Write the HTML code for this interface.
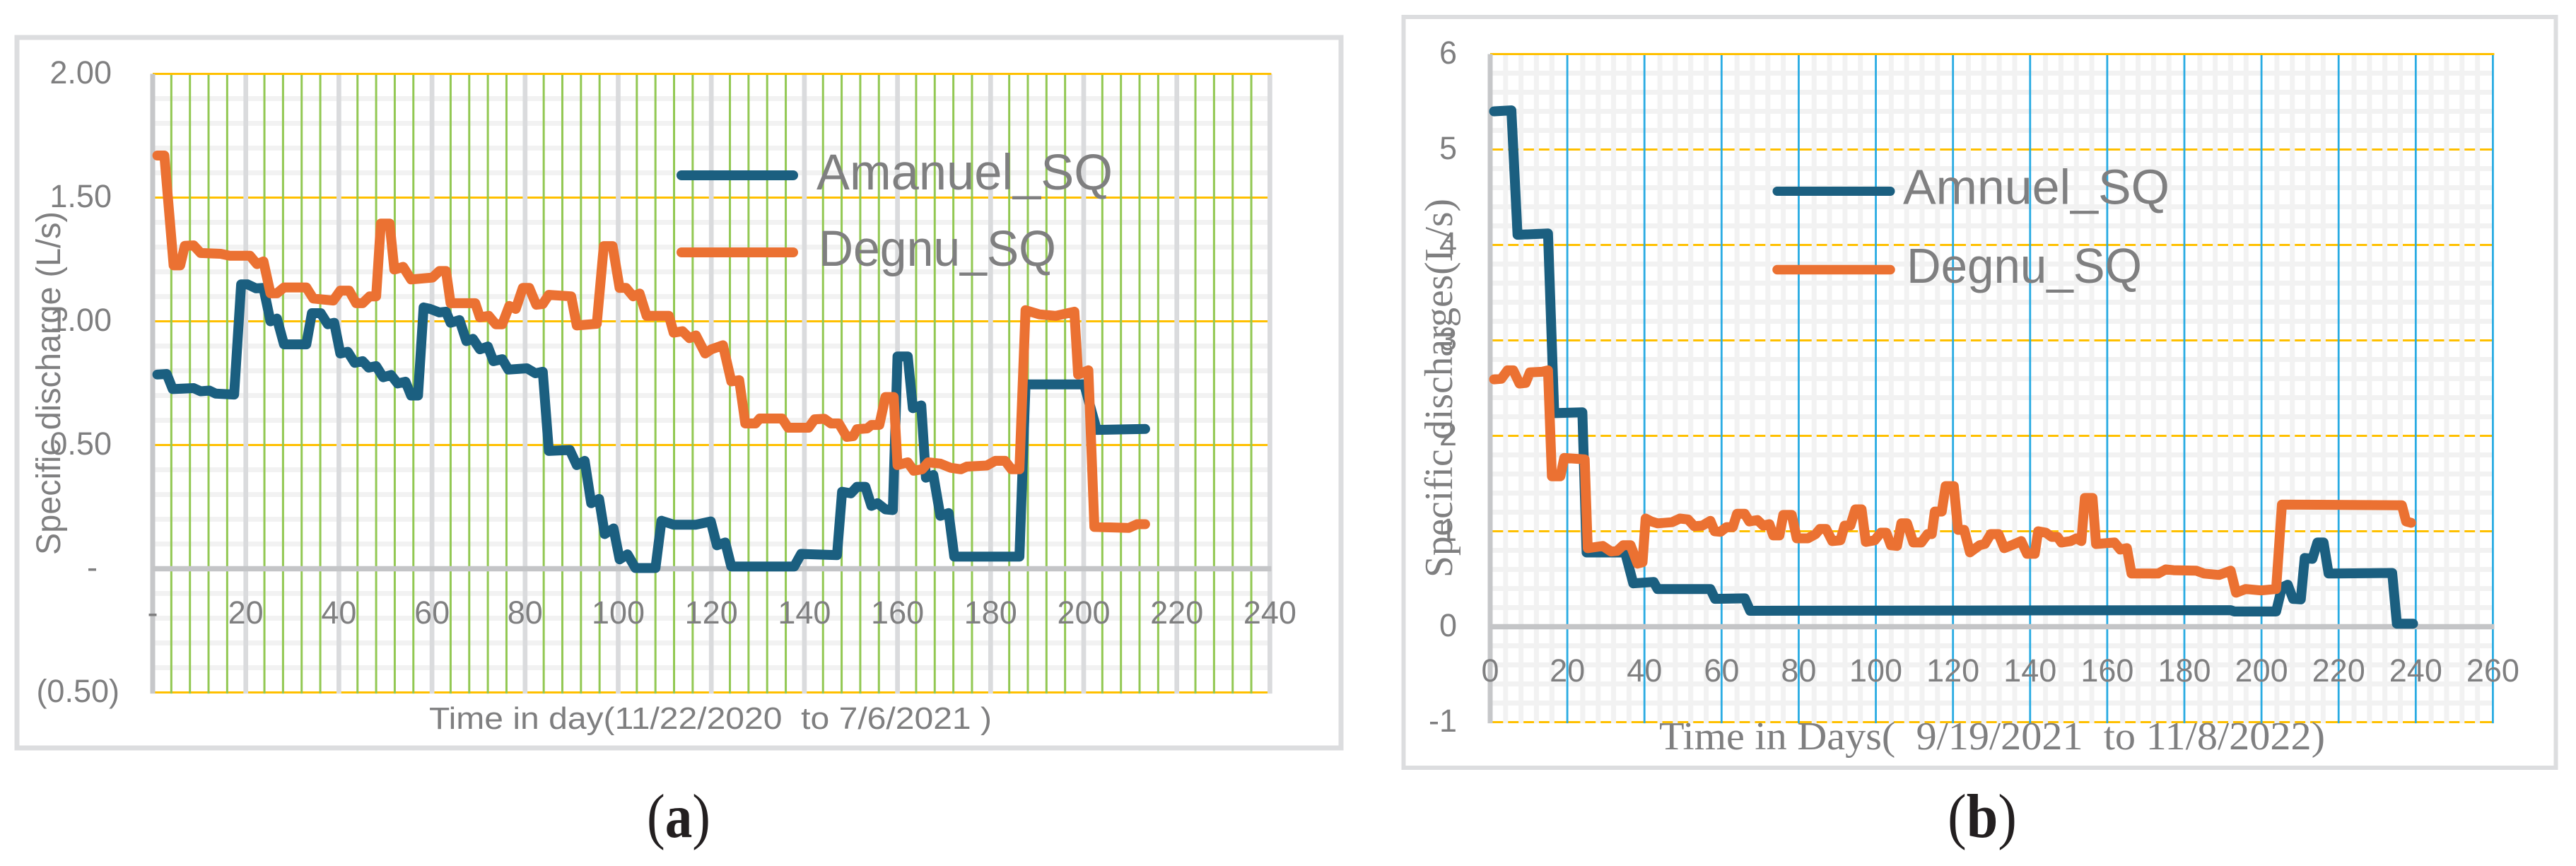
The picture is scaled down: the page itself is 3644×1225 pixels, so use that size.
<!DOCTYPE html>
<html>
<head>
<meta charset="utf-8">
<title>Specific discharge charts</title>
<style>
html,body{margin:0;padding:0;background:#fff;}
svg{display:block;}
text{white-space:pre;}
</style>
</head>
<body>
<svg id="figure" xmlns="http://www.w3.org/2000/svg" width="3644" height="1225" viewBox="0 0 3644 1225">
  <rect x="24" y="53" width="1873" height="1005" fill="#fff" stroke="#dcdddf" stroke-width="7"/>
  <rect x="1985.5" y="24" width="1630" height="1062" fill="#fff" stroke="#dcdddf" stroke-width="6"/>
  <g id="plot-a"></g>
  <g id="plot-b"></g>

  <text transform="translate(85 785) rotate(-90)" font-family="'Liberation Sans',sans-serif" font-size="48" fill="#7f7f80" textLength="486" lengthAdjust="spacingAndGlyphs">Specific discharge (L/s)</text>
  <text x="607" y="1031" font-family="'Liberation Sans',sans-serif" font-size="44" fill="#7f7f80" textLength="796" lengthAdjust="spacingAndGlyphs">Time in day(11/22/2020  to 7/6/2021 )</text>
  <text transform="translate(2054 817) rotate(-90)" font-family="'Liberation Serif',serif" font-size="56" fill="#7f7f80" textLength="536" lengthAdjust="spacingAndGlyphs">Specific discharges(L/s)</text>
  <text x="2347" y="1060" font-family="'Liberation Serif',serif" font-size="56" fill="#7f7f80" textLength="942" lengthAdjust="spacingAndGlyphs">Time in Days(  9/19/2021  to 11/8/2022)</text>

  <line x1="964" y1="248" x2="1122" y2="248" stroke="#1b5f80" stroke-width="14" stroke-linecap="round"/>
  <text x="1155" y="268" font-family="'Liberation Sans',sans-serif" font-size="71" fill="#7f7f80" textLength="419" lengthAdjust="spacingAndGlyphs">Amanuel_SQ</text>
  <line x1="964" y1="357" x2="1122" y2="357" stroke="#eb7132" stroke-width="14" stroke-linecap="round"/>
  <text x="1158" y="376" font-family="'Liberation Sans',sans-serif" font-size="71" fill="#7f7f80" textLength="336" lengthAdjust="spacingAndGlyphs">Degnu_SQ</text>

  <line x1="2514" y1="270.5" x2="2674" y2="270.5" stroke="#1b5f80" stroke-width="13" stroke-linecap="round"/>
  <text x="2692" y="288.5" font-family="'Liberation Sans',sans-serif" font-size="70" fill="#7f7f80" textLength="377" lengthAdjust="spacingAndGlyphs">Amnuel_SQ</text>
  <line x1="2514" y1="381.5" x2="2674" y2="381.5" stroke="#eb7132" stroke-width="13.5" stroke-linecap="round"/>
  <text x="2697" y="400" font-family="'Liberation Sans',sans-serif" font-size="70" fill="#7f7f80" textLength="333" lengthAdjust="spacingAndGlyphs">Degnu_SQ</text>

  <text x="915" y="1184" font-family="'Liberation Serif',serif" font-size="88" fill="#231f20" textLength="90" lengthAdjust="spacingAndGlyphs">(<tspan font-weight="bold">a</tspan>)</text>
  <text x="2755" y="1184" font-family="'Liberation Serif',serif" font-size="88" fill="#231f20" textLength="98" lengthAdjust="spacingAndGlyphs">(<tspan font-weight="bold">b</tspan>)</text>
</svg>
<script>
// Panel (a) data
const aYTicks = [2, 1.5, 1, 0.5, 0, -0.5];
const aYTickLabels = ['2.00', '1.50', '1.00', '0.50', '-', '(0.50)'];
const aXTicks = [0, 20, 40, 60, 80, 100, 120, 140, 160, 180, 200, 220, 240];
const aXTickLabels = ['-', '20', '40', '60', '80', '100', '120', '140', '160', '180', '200', '220', '240'];
const aAmanuelDays = [1,3,4.3,8.8,10.3,12.2,13.5,17.5,19,20.4,22.2,23.8,25.3,26.7,28.2,33,34.2,36.1,37.6,39,40.3,41.9,43.4,45.1,46.4,48,49.5,51.2,52.6,54.3,55.5,57,58.2,59.6,61.6,63,64,65.9,67.4,68.8,70.3,72,73.2,75.1,76.4,80.4,82.2,83.8,85.1,89.6,91.1,92.8,94.2,95.9,97.1,99,100.3,102,103.7,108,109.3,111.9,116.7,119.9,121.2,123,124.3,137.8,139.3,147,148.1,150,151.3,153.1,154.4,155.7,157.4,159,160,162.2,163.3,165.1,166.1,167.7,169.2,171,172.2,186.2,187.5,200.1,202.8,213.2];
const aAmanuelValues = [0.785,0.787,0.726,0.73,0.717,0.72,0.708,0.704,1.149,1.149,1.133,1.135,1.0,1.011,0.907,0.907,1.033,1.033,0.988,0.994,0.87,0.877,0.832,0.839,0.813,0.819,0.774,0.783,0.749,0.756,0.7,0.7,1.056,1.05,1.036,1.039,0.994,1.005,0.92,0.929,0.887,0.898,0.839,0.847,0.805,0.81,0.79,0.796,0.476,0.48,0.419,0.436,0.265,0.282,0.14,0.163,0.038,0.058,0.003,0.003,0.194,0.178,0.178,0.191,0.095,0.106,0.009,0.009,0.06,0.055,0.311,0.305,0.331,0.331,0.254,0.265,0.24,0.237,0.858,0.858,0.649,0.66,0.368,0.379,0.214,0.225,0.049,0.049,0.745,0.745,0.561,0.565];
const aDegnuDays = [1,2.5,4.5,5.9,6.9,8.8,10.3,14.6,16.6,20.9,22.4,23.8,25.3,26.7,28.2,33,34.5,38.8,40.3,42.2,43.7,45.1,46.6,48,49,50.9,51.9,53.8,55.5,60.1,61.6,63,64,69.3,70.3,72.2,73.7,75.1,76.6,78,79.5,80.9,82.4,83.8,85.1,89.9,91.1,95.4,96.9,98.8,100.3,101.7,103.2,104.6,106.1,110.9,111.9,113.8,115.3,116.7,118.7,120,122.5,124.3,126,127.3,129.5,130.4,135.2,136.5,140.9,142.2,144.3,145.7,147.4,149.1,150.5,151.3,153.5,154.4,156.1,157.4,159.2,160,162.2,163.5,165.3,166.6,169.2,171.4,173.6,174.9,179.2,181,183.1,184.5,186.2,187.5,190.5,194,198,198.8,201,202.3,209.7,211.5,213.2];
const aDegnuValues = [1.67,1.67,1.226,1.226,1.305,1.307,1.276,1.273,1.265,1.265,1.231,1.242,1.113,1.113,1.137,1.137,1.092,1.084,1.124,1.124,1.073,1.073,1.101,1.101,1.395,1.395,1.209,1.22,1.169,1.177,1.203,1.203,1.073,1.073,1.016,1.022,0.988,0.988,1.062,1.05,1.135,1.135,1.067,1.07,1.107,1.101,0.983,0.99,1.304,1.304,1.135,1.135,1.101,1.112,1.022,1.022,0.954,0.96,0.932,0.943,0.87,0.887,0.903,0.757,0.762,0.587,0.587,0.607,0.607,0.57,0.57,0.604,0.606,0.587,0.587,0.533,0.536,0.564,0.567,0.581,0.581,0.694,0.694,0.419,0.43,0.396,0.402,0.43,0.425,0.408,0.402,0.413,0.417,0.436,0.436,0.402,0.402,1.045,1.028,1.022,1.039,0.785,0.802,0.169,0.165,0.18,0.18];

// Panel (b) data
const bYTicks = [6, 5, 4, 3, 2, 1, 0, -1];
const bYTickLabels = ['6', '5', '4', '3', '2', '1', '0', '-1'];
const bXTicks = [0, 20, 40, 60, 80, 100, 120, 140, 160, 180, 200, 220, 240, 260];
const bXTickLabels = ['0', '20', '40', '60', '80', '100', '120', '140', '160', '180', '200', '220', '240', '260'];
const bAmnuelDays = [1,5.5,7.1,15,16.6,23.9,25,35,37.1,42.4,43.4,57.1,58.3,66,67.4,192,193,203.8,205.3,206.8,208.2,210.2,211.2,213.2,214.5,216.1,217.4,233.9,235.1,239.3];
const bAmnuelValues = [5.4,5.41,4.107,4.12,2.238,2.247,0.778,0.778,0.454,0.469,0.395,0.395,0.292,0.297,0.167,0.173,0.159,0.159,0.41,0.44,0.291,0.286,0.72,0.711,0.882,0.882,0.557,0.563,0.032,0.032];
const bDegnuDays = [1,2.9,4.5,6,7.6,9.2,10.3,13.4,15,16,18.2,19.2,24.5,25.3,29.2,31.3,32.9,34.5,36.4,38.2,39.5,40.3,41.8,43.4,47.1,49.2,51.3,52.9,55,57.1,58.2,59.7,61.3,62.9,64,66,67.2,69.3,70.8,72.4,73.4,75,76,78.2,79.5,82.4,84.4,85.5,87.1,88.7,90.8,91.9,93.4,94.7,96.3,97.4,99.7,101.3,102.7,103.9,105.5,106.6,108.1,109.7,111.8,113.4,114.5,115.3,117.1,118.1,120.2,121.3,122.9,124.4,126.9,128.3,129.8,131.8,133.3,135.2,137.7,139.2,141.2,142.1,144.1,145.6,147.1,148.1,150.5,152,153.3,154.2,156.2,157.1,161.9,163.4,165.1,166.3,173.2,175.2,177.2,183.1,185.1,189,192,193.4,195.9,199.9,203.8,205.3,236.4,237.5,238.8];
const bDegnuValues = [2.592,2.598,2.686,2.686,2.548,2.554,2.665,2.671,2.686,1.576,1.576,1.768,1.753,0.823,0.846,0.788,0.794,0.853,0.853,0.661,0.675,1.133,1.103,1.083,1.095,1.133,1.124,1.053,1.059,1.109,1.0,0.994,1.044,1.044,1.183,1.183,1.103,1.118,1.059,1.074,0.956,0.956,1.171,1.171,0.926,0.926,0.97,1.024,1.024,0.897,0.905,1.059,1.059,1.23,1.23,0.888,0.906,0.985,0.985,0.853,0.847,1.083,1.083,0.882,0.882,0.97,0.97,1.207,1.207,1.473,1.473,1.015,1.015,0.779,0.853,0.868,0.97,0.97,0.823,0.853,0.897,0.764,0.764,1.0,0.985,0.941,0.941,0.882,0.897,0.926,0.897,1.349,1.349,0.867,0.882,0.808,0.823,0.557,0.557,0.601,0.592,0.587,0.557,0.542,0.587,0.356,0.395,0.38,0.395,1.28,1.272,1.103,1.089];

const NS = 'http://www.w3.org/2000/svg';
function shape(tag, parent, attrs, txt) {
  const n = document.createElementNS(NS, tag);
  for (const k in attrs) n.setAttribute(k, attrs[k]);
  if (txt !== undefined) n.textContent = txt;
  parent.appendChild(n);
  return n;
}

// Axis functions
function xA(d) { return 216 + 6.585 * d; }
function yA(v) { return 804.5 - 350 * v; }
function xB(d) { return 2108 + 5.4555 * d; }
function yB(v) { return 886.5 - 135 * v; }

function drawGrid(root, prefix, x, y, xTicks, yTicks, minorXColor, minorXWidth, majorXColor, majorXWidth, minorYStep) {
  const x0 = x(xTicks[0]), x1 = x(xTicks[xTicks.length - 1]);
  const yTop = y(yTicks[0]), yBot = y(yTicks[yTicks.length - 1]);
  const gridGroup = shape('g', root, {});
  
  
  // minor horizontals
  const hi = yTicks[0], lo = yTicks[yTicks.length - 1];
  const steps = Math.round((hi - lo) / minorYStep);
  const majorEvery = Math.round((yTicks[0] - yTicks[1]) / minorYStep);
  for (let i = 1; i < steps; i++) {
    if (i % majorEvery === 0) continue;
    const yy = y(hi - i * minorYStep);
    const hm = shape('line', gridGroup, {x1: x0, x2: x1, y1: yy, y2: yy, stroke: '#f2f2f2', 'stroke-width': 7});
    
    
  }
  // major horizontals (solid; the vertical gridlines drawn next break them up)
  yTicks.forEach(function (v, i) {
    if (v === 0 || i === 0) return;
    const yy = y(v);
    const hg = shape('line', gridGroup, {x1: x0, x2: x1, y1: yy, y2: yy, stroke: '#ffc000', 'stroke-width': 3});
    
    
  });
  // minor verticals
  const span = xTicks[xTicks.length - 1];
  for (let d = 4; d < span; d += 4) {
    if (d % 20 === 0) continue;
    const vm = shape('line', gridGroup, {x1: x(d), x2: x(d), y1: yTop, y2: yBot + 1.6, stroke: minorXColor, 'stroke-width': minorXWidth});
    
    
  }
  // major verticals
  xTicks.forEach(function (d) {
    if (d === 0) return;
    const vg = shape('line', gridGroup, {x1: x(d), x2: x(d), y1: yTop, y2: yBot + 1.6, stroke: majorXColor, 'stroke-width': majorXWidth});
    
    
  });
  // top gridline stays unbroken
  const topLine = shape('line', gridGroup, {x1: x0, x2: x1 + 2, y1: yTop, y2: yTop, stroke: '#ffc000', 'stroke-width': 3});
  
  
  // axes
  const yAxis = shape('line', root, {x1: x0, x2: x0, y1: yTop, y2: yBot + 1.6, stroke: '#c6c7c9', 'stroke-width': 7});
  
  
  const xAxis = shape('line', root, {x1: x0, x2: x1 + 2, y1: y(0), y2: y(0), stroke: '#c4c5c7', 'stroke-width': 7.5});
  
  
}

function drawTicks(root, prefix, x, y, xTicks, xLabels, yTicks, yLabels, yRight, xBaseline) {
  yTicks.forEach(function (v, i) {
    const lab = yLabels[i];
    let dx = 0;
    if (lab === '-') dx = -20;
    if (lab.charAt(0) === '(') dx = 11;
    const t = shape('text', root, {x: yRight + dx, y: y(v) + 13.5, 'text-anchor': 'end', 'font-family': "'Liberation Sans',sans-serif", 'font-size': 45, fill: '#7f7f80'}, lab);
    
    
  });
  xTicks.forEach(function (d, i) {
    const t = shape('text', root, {x: x(d), y: xBaseline, 'text-anchor': 'middle', 'font-family': "'Liberation Sans',sans-serif", 'font-size': 45, fill: '#7f7f80'}, xLabels[i]);
    
    
  });
}

function linePath(x, y, days, values) {
  return days.map(function (d, i) {
    return (i ? 'L' : 'M') + x(d).toFixed(1) + ' ' + y(values[i]).toFixed(1);
  }).join(' ');
}

function seriesAttrs(x, y, days, values, color, width) {
  return {d: linePath(x, y, days, values), fill: 'none', stroke: color, 'stroke-width': width, 'stroke-linejoin': 'round', 'stroke-linecap': 'round'};
}

const plotA = document.getElementById('plot-a');
drawGrid(plotA, 'panel-a', xA, yA, aXTicks, aYTicks, '#92c853', 3, '#dadbdd', 6.7, 0.1);
drawTicks(plotA, 'panel-a', xA, yA, aXTicks, aXTickLabels, aYTicks, aYTickLabels, 158, 882);
const amanuelLine = shape('path', plotA, seriesAttrs(xA, yA, aAmanuelDays, aAmanuelValues, '#1b5f80', 14));


const degnuLineA = shape('path', plotA, seriesAttrs(xA, yA, aDegnuDays, aDegnuValues, '#eb7132', 14));



const plotB = document.getElementById('plot-b');
drawGrid(plotB, 'panel-b', xB, yB, bXTicks, bYTicks, '#f2f2f2', 7, '#29abe2', 2.8, 0.2);
drawTicks(plotB, 'panel-b', xB, yB, bXTicks, bXTickLabels, bYTicks, bYTickLabels, 2061, 964);
const amnuelLine = shape('path', plotB, seriesAttrs(xB, yB, bAmnuelDays, bAmnuelValues, '#1b5f80', 14));


const degnuLineB = shape('path', plotB, seriesAttrs(xB, yB, bDegnuDays, bDegnuValues, '#eb7132', 14));


</script>
</body>
</html>
